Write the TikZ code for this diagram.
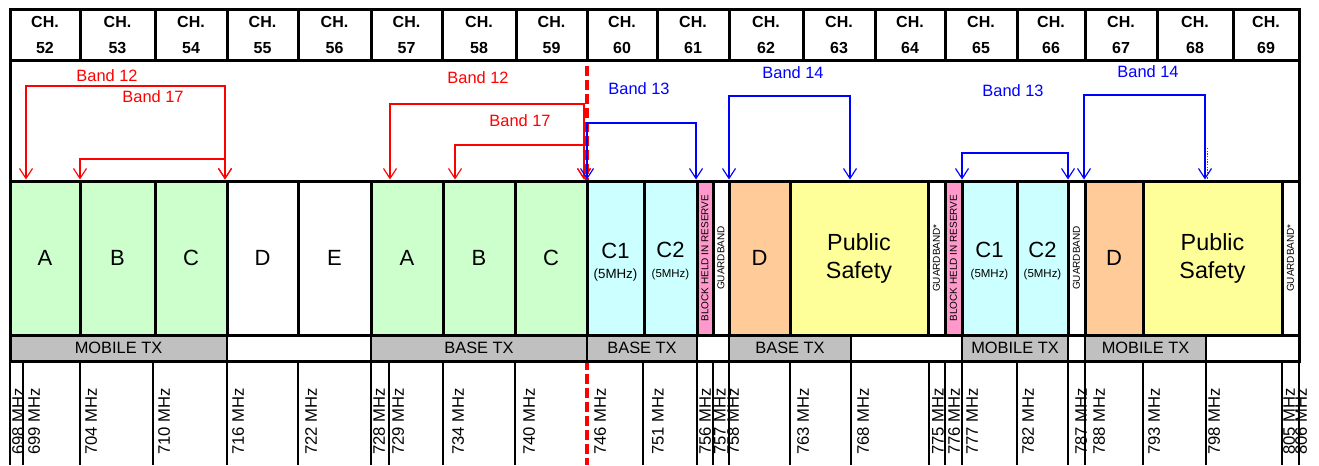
\documentclass[tikz,border=0pt]{standalone}
\usepackage{fontspec}
\setmainfont{Liberation Sans}
\usetikzlibrary{arrows.meta,positioning}
\definecolor{lowgreen}{HTML}{CCFFCC}
\definecolor{ccyan}{HTML}{CCFFFF}
\definecolor{reservepink}{HTML}{FF99CC}
\definecolor{dblock}{HTML}{FFCC99}
\definecolor{psyellow}{HTML}{FFFF99}
\definecolor{txgrey}{HTML}{C0C0C0}
\definecolor{bandred}{HTML}{FF0000}
\definecolor{bandblue}{HTML}{0000FF}

\begin{document}
\begin{tikzpicture}[x=0.75pt,y=-0.75pt,
  chan/.style={draw=black,line width=2.25pt,minimum height=38.25pt,inner sep=0pt,align=center,font=\fontsize{12}{19.5}\selectfont\bfseries},
  blk/.style={draw=black,line width=2.25pt,minimum height=115.5pt,inner sep=0pt,font=\fontsize{16.5}{21}\selectfont},
  blktxt/.style={inner sep=0pt,align=center,font=\fontsize{16.5}{21}\selectfont},
  vtxt/.style={rotate=90,inner sep=0pt,font=\fontsize{7.5}{9}\selectfont},
  txcell/.style={draw=black,line width=1.1pt,minimum height=19.9pt,inner sep=0pt,font=\fontsize{12.3}{14}\selectfont},
  freq/.style={rotate=90,anchor=north west,inner sep=0pt,font=\fontsize{12.5}{14}\selectfont},
  fthin/.style={draw=black,line width=0.9pt},fthick/.style={draw=black,line width=1.9pt},fnone/.style={draw=none},
  frame/.style={draw=black,line width=2.25pt},
  bandlbl/.style={inner sep=0pt,font=\fontsize{12.3}{14}\selectfont},
  band/.style={line width=0.85pt,{Straight Barb[length=7.5pt,width=9.75pt]}-{Straight Barb[length=7.5pt,width=9.75pt]}}]
\useasboundingbox (0,0) rectangle (1319,465);
% 746 MHz split
\coordinate (split) at (587,66);
\draw[bandred,line width=3pt,dash pattern=on 7.5pt off 3pt] (split) -- (split |- 0,465);
% channels
\foreach \xl/\xr/\ch in {10/80/52,80/155/53,155/227/54,227/298/55,298/371/56,371/442/57,442/516/58,516/587/59,587/657/60,
  657/729/61,729/803/62,803/875/63,875/945/64,945/1017/65,1017/1085/66,1085/1157/67,1157/1233/68,1233/1299/69}
  \node[chan,minimum width={(\xr-\xl)*0.75pt}] (ch\ch) at ({(\xl+\xr)/2},34.5) {CH.\\\ch};
% blocks
\foreach \xl/\xr/\fc/\nm/\txt in {10/80/lowgreen/a1/A,80/155/lowgreen/b1/B,155/227/lowgreen/c1/C,227/298/white/d1/D,
  298/371/white/e1/E,371/443/lowgreen/a2/A,443/515/lowgreen/b2/B,515/587/lowgreen/c2/C,
  587/644/ccyan/ca/,644/697/ccyan/cb/,697/713/reservepink/hold1/,713/729/white/gb1/,729/790/dblock/dd1/D,
  790/928/psyellow/ps1/,928/945/white/gb2/,945/962/reservepink/hold2/,962/1017/ccyan/cc/,1017/1068/ccyan/cd/,
  1068/1085/white/gb3/,1085/1143/dblock/dd2/D,1143/1282/psyellow/ps2/,1282/1299/white/gb4/}
  \node[blk,fill=\fc,minimum width={(\xr-\xl)*0.75pt}] (\nm) at ({(\xl+\xr)/2},258) {\txt};
\node[blktxt] (catxt) at ([yshift=-3pt]ca) {C1\\[-6pt]{\fontsize{10}{11}\selectfont(5MHz)}};
\node[blktxt] (cbtxt) at ([yshift=-2pt]cb) {C2\\[-6pt]{\fontsize{8.6}{10}\selectfont(5MHz)}};
\node[blktxt] (cctxt) at ([yshift=-2pt]cc) {C1\\[-6pt]{\fontsize{8.6}{10}\selectfont(5MHz)}};
\node[blktxt] (cdtxt) at ([yshift=-2pt]cd) {C2\\[-6pt]{\fontsize{8.6}{10}\selectfont(5MHz)}};
\node[blktxt,font=\fontsize{17.5}{21}\selectfont] (ps1txt) at (ps1) {Public\\Safety};
\node[blktxt,font=\fontsize{17.5}{21}\selectfont] (ps2txt) at (ps2) {Public\\Safety};
\node[vtxt] (hold1t) at (hold1) {BLOCK HELD IN RESERVE};
\node[vtxt] (hold2t) at (hold2) {BLOCK HELD IN RESERVE};
\node[vtxt] (gb1t) at (gb1) {GUARDBAND};
\node[vtxt] (gb2t) at (gb2) {GUARDBAND*};
\node[vtxt] (gb3t) at (gb3) {GUARDBAND};
\node[vtxt] (gb4t) at (gb4) {GUARDBAND*};
% transmit row
\foreach \xl/\xr/\fc/\nm/\txt in {10/227/txgrey/tx1/MOBILE TX,227/371/white/tx2/,371/587/txgrey/tx3/BASE TX,
  587/697/txgrey/tx4/BASE TX,697/729/white/tx5/,729/851/txgrey/tx6/BASE TX,851/962/white/tx7/,
  962/1068/txgrey/tx8/MOBILE TX,1068/1085/white/tx9/,1085/1206/txgrey/tx10/MOBILE TX,1206/1299/white/tx11/}
  \node[txcell,fill=\fc,minimum width={(\xr-\xl)*0.75pt}] (\nm) at ({(\xl+\xr)/2},348.25) {\txt};
\coordinate (nw) at (10,9);
\coordinate (se) at (1299,361.5);
\draw[frame] (nw) rectangle (se);
\draw[frame] (nw |- 0,335) -- (se |- 0,335);
% frequencies
\foreach \xf/\xt/\fq/\st in {10/12/698/fthin,23/28/699/fthin,80/85/704/fthin,153/158/710/fthick,227/232/716/fthick,
  298/305/722/fthin,371/373/728/fthick,389/392/729/fthin,443/452/734/fthin,515/523/740/fthin,587/594/746/fnone,
  643/652/751/fthin,697/699/756/fthin,713/714/757/fthin,729/727/758/fthin,790/797/763/fthin,851/857/768/fthin,
  929/932/775/fthin,945/948/776/fthin,962/966/777/fthick,1017/1022/782/fthin,1068/1075/787/fthin,1085/1093/788/fthick,
  1143/1148/793/fthin,1206/1208/798/fthin,1282/1283/805/fthin,1299/1295/806/fthick}{
  \draw[\st] (\xf,361.5) -- (\xf,465);
  \node[freq] (f\fq) at (\xt,455) {\fq{} MHz};
}
% bands
\foreach \nm/\cl/\lx/\ly/\by/\xa/\xb/\ta/\tb/\txt in {b12a/bandred/107/76/86/26/225/a1/c1/Band 12,
  b17a/bandred/153/97/159/80/225/b1/c1/Band 17,b12b/bandred/478/78/104/390/584/a2/c2/Band 12,
  b17b/bandred/520/121/145/455/584/b2/c2/Band 17,b13a/bandblue/639/89/123/587/696/ca/cb/Band 13,
  b14a/bandblue/793/73/96/729/850/dd1/ps1/Band 14,b13b/bandblue/1013/91/153/962/1068/cc/cd/Band 13,
  b14b/bandblue/1148/72/95/1084/1205/dd2/ps2/Band 14}{
  \node[bandlbl,text=\cl] (\nm) at (\lx,\ly) {\txt};
  \coordinate (\nm-l) at (\xa,\by);
  \coordinate (\nm-r) at (\xb,\by);
  \draw[band,\cl] (\nm-l |- \ta.north) -- (\nm-l) -- (\nm-r) -- (\nm-r |- \tb.north);
}
\coordinate (tick) at (1207,148);
\draw[bandred,line width=0.75pt,dash pattern=on 1pt off 1pt] (tick) -- (tick |- ps2.north);
\end{tikzpicture}
\end{document}
